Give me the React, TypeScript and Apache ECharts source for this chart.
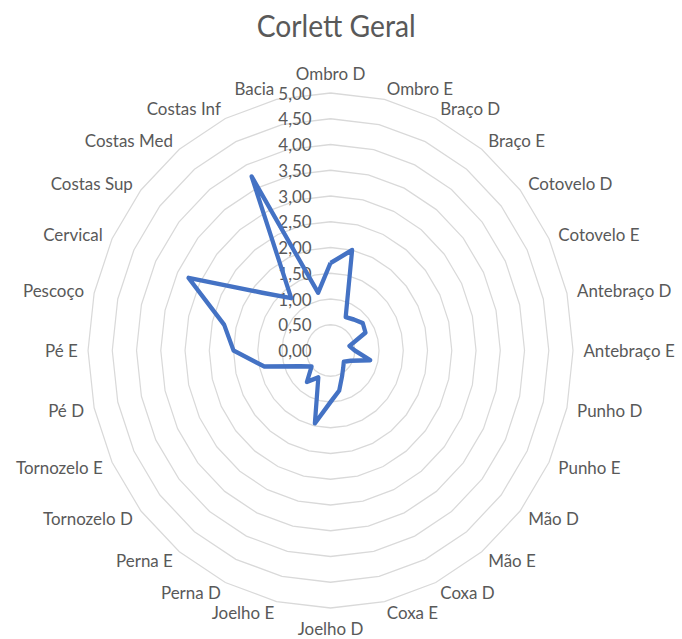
import React, { useEffect, useRef } from "react";
import * as echarts from "echarts";

const title = "Corlett Geral";
const categories = [
  "Ombro D", "Ombro E", "Braço D", "Braço E", "Cotovelo D", "Cotovelo E",
  "Antebraço D", "Antebraço E", "Punho D", "Punho E", "Mão D", "Mão E",
  "Coxa D", "Coxa E", "Joelho D", "Joelho E", "Perna D", "Perna E",
  "Tornozelo D", "Tornozelo E", "Pé D", "Pé E", "Pescoço", "Cervical",
  "Costas Sup", "Costas Med", "Costas Inf", "Bacia",
];
const values = [
  1.7, 2.0, 0.72, 0.77, 0.85, 0.8,
  0.4, 0.5, 0.84, 0.46, 0.35, 0.42,
  0.55, 0.8, 1.0, 1.45, 0.58, 0.78,
  0.5, 0.7, 1.4, 2.0, 2.25, 3.25,
  1.8, 1.3, 3.75, 1.15,
];
const axisMin = 0;
const axisMax = 5;
const axisSteps = 10;

// ECharts lays indicators counter-clockwise; the reference runs clockwise.
const order = [0, ...categories.map((_, i) => i).slice(1).reverse()];

const SQUEEZE = 0.9417;
const W = 682 / SQUEEZE;
const H = 639;
const FONT = "Lato, 'Open Sans', sans-serif";

export default function App() {
  const ref = useRef<HTMLDivElement>(null);
  useEffect(() => {
    if (!ref.current) return;
    const chart = echarts.init(ref.current, undefined, { renderer: "svg" });
    chart.setOption({
      animation: false,
      backgroundColor: "#ffffff",
      title: {
        text: title,
        left: 352,
        top: 5,
        textAlign: "center",
        textStyle: { color: "#595959", fontSize: 30, fontWeight: "normal", fontFamily: FONT },
      },
      radar: {
        center: [351, 350.5],
        radius: 257.5,
        startAngle: 90,
        shape: "polygon",
        splitNumber: axisSteps,
        nameGap: 11,
        axisName: { color: "#595959", fontSize: 18, fontFamily: FONT },
        splitLine: { show: true, lineStyle: { color: "#d9d9d9", width: 1.3 } },
        splitArea: { show: false },
        axisLine: { show: false },
        axisTick: { show: false },
        axisLabel: {
          show: false,
          color: "#595959",
          fontSize: 18,
          fontFamily: FONT,
          margin: 20,
          formatter: (v: number) => Number(v).toFixed(2).replace(".", ","),
        },
        indicator: order.map((i, k) => ({
          name: categories[i],
          min: axisMin,
          max: axisMax,
          ...(k === 0 ? { axisLabel: { show: true } } : {}),
        })),
      },
      series: [
        {
          type: "radar",
          symbol: "none",
          lineStyle: { color: "#4472C4", width: 4.5, join: "round" },
          data: [{ value: order.map((i) => values[i]), name: title }],
        },
      ],
    });
    return () => chart.dispose();
  }, []);
  return (
    <div
      ref={ref}
      style={{
        position: "fixed",
        left: 0,
        top: 0,
        width: W,
        height: H,
        transform: `scaleX(${SQUEEZE})`,
        transformOrigin: "0 0",
        background: "#fff",
      }}
    />
  );
}
